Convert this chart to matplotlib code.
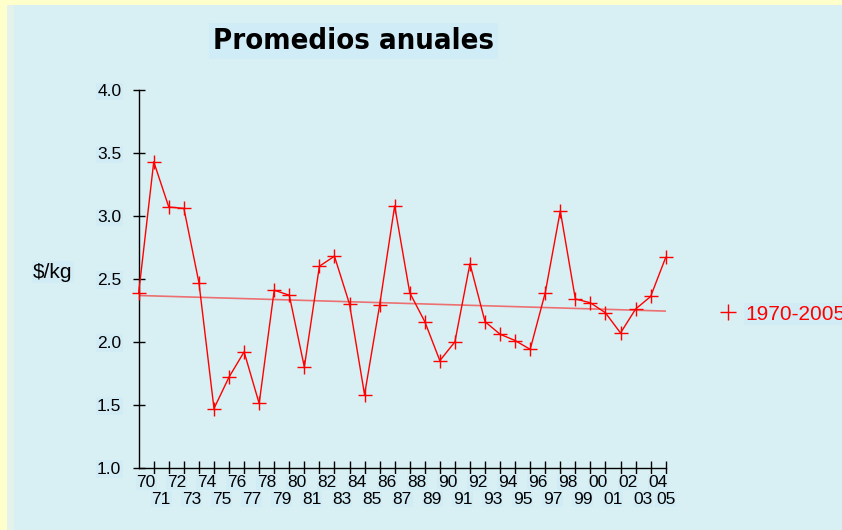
import numpy as np
import matplotlib
matplotlib.use("Agg")
import matplotlib.pyplot as plt
from matplotlib.patches import Rectangle

# ---- data ----
years = list(range(1970, 2006))
year_labels = ["%02d" % (y % 100) for y in years]
prices = [2.39, 3.43, 3.07, 3.06, 2.47, 1.47, 1.72, 1.92, 1.51, 2.41,
          2.37, 1.80, 2.60, 2.68, 2.30, 1.58, 2.29, 3.08, 2.39, 2.16,
          1.85, 2.00, 2.62, 2.16, 2.06, 2.01, 1.94, 2.39, 3.04, 2.34,
          2.31, 2.23, 2.07, 2.26, 2.36, 2.67]
y_ticks = [1.0, 1.5, 2.0, 2.5, 3.0, 3.5, 4.0]
title = "Promedios anuales"
ylabel = "$/kg"
series_name = "1970-2005"

BG = "#d8eff3"
LABEL_BG = "#d1ecf5"
YELLOW = "#ffffcc"

fig = plt.figure(figsize=(8.42, 5.30), dpi=100)
fig.patch.set_facecolor(YELLOW)
W, H = 842, 530
fig.patches.append(Rectangle((7 / W, 0), 7 / W, 1 - 5 / H, transform=fig.transFigure,
                             facecolor="#e4f2ec", edgecolor="none", zorder=-5))
fig.patches.append(Rectangle((14 / W, 0), 1 - 14 / W, 1 - 5 / H, transform=fig.transFigure,
                             facecolor=BG, edgecolor="none", zorder=-5))

ax = fig.add_axes([138.7 / W, 1 - 467.7 / H, 527 / W, 377.7 / H])
ax.set_facecolor("none")
ax.set_zorder(2)

x = np.arange(len(prices))
ax.plot(x, prices, color="#ff0000", lw=1.0, marker="+", markersize=10,
        markeredgewidth=1.0, clip_on=False, zorder=3)

# linear trend
coef = np.polyfit(x, prices, 1)
ax.plot(x, np.polyval(coef, x), color="#f05a5a", lw=1.2, alpha=0.85, zorder=2)

ax.set_xlim(0, len(prices) - 1)
ax.set_ylim(y_ticks[0], y_ticks[-1])

for s in ["top", "right"]:
    ax.spines[s].set_visible(False)
for s in ["left", "bottom"]:
    ax.spines[s].set_linewidth(1.0)
    ax.spines[s].set_color("black")

ax.set_yticks(y_ticks)
ax.set_yticklabels(["%.1f" % v for v in y_ticks])
ax.tick_params(axis="y", direction="inout", length=9, width=1.0, pad=8,
               labelsize=12.5, colors="black")
for lab in ax.get_yticklabels():
    lab.set_fontfamily("Liberation Sans")
    lab.set_bbox(dict(facecolor=LABEL_BG, edgecolor="none", pad=1))

ax.set_xticks(x[1:])
ax.set_xticklabels([])
ax.tick_params(axis="x", direction="inout", length=10.6, width=1.0)

for i, lab in enumerate(year_labels):
    pos = min(i + 0.5, len(prices) - 1)
    off = -14.5 if i % 2 == 0 else -31.5
    ax.annotate(lab, xy=(pos, 0), xycoords=("data", "axes fraction"),
                xytext=(0, off), textcoords="offset pixels",
                ha="center", va="center", fontsize=12.5, color="black",
                fontfamily="Liberation Sans", annotation_clip=False,
                bbox=dict(facecolor=LABEL_BG, edgecolor="none", pad=0.5))

# y label
fig.text(33 / W, 1 - 272 / H, ylabel, ha="left", va="center", fontsize=15,
         fontfamily="Liberation Sans", color="black",
         bbox=dict(facecolor=LABEL_BG, edgecolor="none", pad=1))

# title
fig.text(353.5 / W, 1 - 41 / H, title, ha="center", va="center", fontsize=21,
         fontweight="bold", fontfamily="DejaVu Sans", fontstretch="condensed",
         color="black",
         bbox=dict(facecolor="#d0ecf6", edgecolor="none", pad=3))

# legend
fig.lines.append(plt.Line2D([728 / W], [1 - 312 / H], transform=fig.transFigure,
                            marker="+", markersize=11, markeredgewidth=1.0,
                            color="#ff0000", linestyle="none"))
fig.text(745 / W, 1 - 314 / H, series_name, ha="left", va="center", fontsize=15,
         fontfamily="Liberation Sans", color="#ff0000",
         bbox=dict(facecolor=LABEL_BG, edgecolor="none", pad=1))

fig.savefig("out.png", dpi=100, facecolor=fig.get_facecolor())
